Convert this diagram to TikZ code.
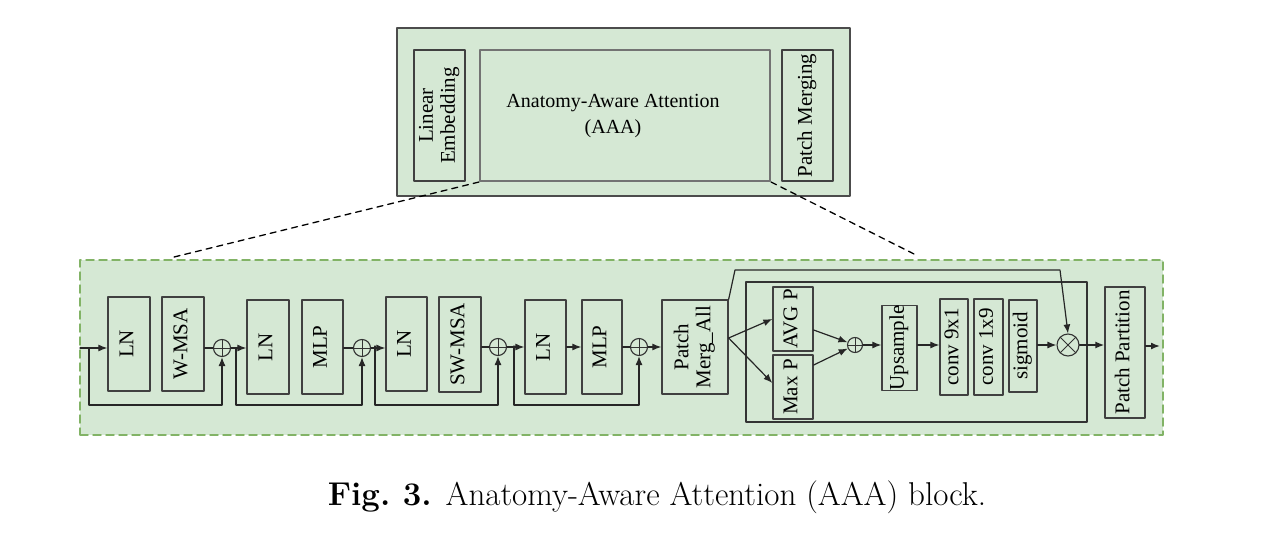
\documentclass[tikz,border=0pt]{standalone}
\usepackage{fontspec}
\newfontfamily\tnr{Liberation Serif}
\usetikzlibrary{arrows.meta,calc}
\definecolor{aaagreen}{RGB}{213,232,212}
\definecolor{aaadash}{RGB}{130,179,102}
\newcommand{\uptext}[1]{\rotatebox{90}{\begin{tabular}{@{}c@{}}#1\end{tabular}}}

\begin{document}
\begin{tikzpicture}[x=1pt,y=-1pt,line cap=round,line join=round,>={Latex[length=9pt,width=7pt]},
	blk/.style={draw=black!75,line width=1.3pt,fill=aaagreen,inner sep=0pt,font=\fontsize{21}{22}\selectfont\tnr},
	opl/.style={circle,draw=black!80,line width=1.1pt,minimum size=17pt,inner sep=0pt,
		path picture={\draw[line width=1pt] (path picture bounding box.north)--(path picture bounding box.south)
			(path picture bounding box.west)--(path picture bounding box.east);}},
	otm/.style={circle,draw=black!80,line width=1.1pt,minimum size=22pt,inner sep=0pt,
		path picture={\draw[line width=1pt] (path picture bounding box.north west)--(path picture bounding box.south east)
			(path picture bounding box.south west)--(path picture bounding box.north east);}},
	conn/.style={line width=1.2pt,draw=black!85}]
	\useasboundingbox (0,0) rectangle (1280,543);
	\node[draw=black!70,line width=1.2pt,fill=aaagreen,minimum width=453pt,minimum height=168pt] (top) at (623.5,112) {};
	\node[blk,minimum width=51pt,minimum height=131pt] (linemb) at (439.5,115.5) {\uptext{Linear\\Embedding}};
	\node[blk,draw=black!55,line width=2pt,minimum width=290pt,minimum height=131pt] (aaa) at (625,115.5) {};
	\node[align=center,font=\fontsize{20}{26}\selectfont\tnr] (aaalbl) at (613,116) {Anatomy-Aware Attention\\(AAA)};
	\node[blk,minimum width=51pt,minimum height=131pt] (pmerg) at (807.5,115.5) {\uptext{Patch Merging}};
	\node[draw=aaadash,line width=1.5pt,dash pattern=on 8pt off 5pt,fill=aaagreen,minimum width=1083pt,minimum height=175pt] (zoom) at (621.5,347.5) {};
	\coordinate (zl) at (170,258);
	\coordinate (zr) at (918,256);
	\draw[line width=1.3pt,dash pattern=on 6pt off 5pt] (aaa.south west) -- (zl);
	\draw[line width=1.3pt,dash pattern=on 6pt off 5pt] (aaa.south east) -- (zr);
	\node[blk,minimum width=42pt,minimum height=94pt] (ln1) at (129,344) {\uptext{LN}};
	\node[blk,minimum width=42pt,minimum height=94pt] (wmsa) at (183,344) {\uptext{W-MSA}};
	\node[opl] (add1) at (222,348) {};
	\node[blk,minimum width=42pt,minimum height=94pt] (ln2) at (268,347) {\uptext{LN}};
	\node[blk,minimum width=41pt,minimum height=94pt] (mlp1) at (322.5,347) {\uptext{MLP}};
	\node[opl] (add2) at (362,348) {};
	\node[blk,minimum width=41pt,minimum height=94pt] (ln3) at (406.5,344) {\uptext{LN}};
	\node[blk,minimum width=42pt,minimum height=95pt] (swmsa) at (460,344.5) {\uptext{SW-MSA}};
	\node[opl] (add3) at (498,347) {};
	\node[blk,minimum width=41pt,minimum height=94pt] (ln4) at (545.5,347) {\uptext{LN}};
	\node[blk,minimum width=40pt,minimum height=94pt] (mlp2) at (602,347) {\uptext{MLP}};
	\node[opl] (add4) at (639,347) {};
	\node[blk,minimum width=66pt,minimum height=94pt] (pma) at (695,347) {\uptext{Patch\\Merg\_All}};
	\node[draw=black!80,line width=1.2pt,minimum width=341pt,minimum height=140pt] (attn) at (916.5,352) {};
	\node[blk,minimum width=40pt,minimum height=64pt] (avgp) at (793,319) {\uptext{AVG P}};
	\node[blk,minimum width=40pt,minimum height=64pt] (maxp) at (793,387) {\uptext{Max P}};
	\node[opl,minimum size=15pt] (add5) at (855,345) {};
	\node[blk,minimum width=35pt,minimum height=84pt] (ups) at (899.5,348) {\uptext{Upsample}};
	\node[blk,minimum width=28pt,minimum height=96pt] (conva) at (954,347) {\uptext{conv 9x1}};
	\node[blk,minimum width=29pt,minimum height=96pt] (convb) at (988.5,347) {\uptext{conv 1x9}};
	\node[blk,minimum width=28pt,minimum height=92pt] (sig) at (1023,346) {\uptext{sigmoid}};
	\node[otm] (mul) at (1068,345) {};
	\node[blk,minimum width=40pt,minimum height=131pt] (ppart) at (1125,352.5) {\uptext{Patch Partition}};
	\node[align=center,font=\fontsize{33}{36}\selectfont] (cap) at (657,497) {\textbf{Fig.~3.}\hspace{14pt}Anatomy-Aware Attention (AAA) block.};
	\coordinate (in) at (80,348);
	\coordinate (out) at (1160,346);
	\coordinate (s1) at (89,348);
	\coordinate (s2) at (236,348);
	\coordinate (s3) at (375,346);
	\coordinate (s4) at (514,346);
	\draw[conn,->] (in) -- (ln1.west |- in);
	\draw[conn] (wmsa.east |- add1) -- (add1.west);
	\draw[conn,->] (add1.east) -- (ln2.west |- add1);
	\draw[conn] (mlp1.east |- add2) -- (add2.west);
	\draw[conn,->] (add2.east) -- (ln3.west |- add2);
	\draw[conn] (swmsa.east |- add3) -- (add3.west);
	\draw[conn,->] (add3.east) -- (ln4.west |- add3);
	\draw[conn,->] (ln4.east) -- (mlp2.west);
	\draw[conn] (mlp2.east |- add4) -- (add4.west);
	\draw[conn,->] (add4.east) -- (pma.west |- add4);
	\draw[conn,->] (s1) -- ++(0,57) -| (add1.south);
	\draw[conn,->] (s2) -- ++(0,57) -| (add2.south);
	\draw[conn,->] (s3) -- ++(0,59) -| (add3.south);
	\draw[conn,->] (s4) -- ++(0,59) -| (add4.south);
	\draw[conn,->] ($(pma.east)+(0,-9)$) -- (avgp.west);
	\draw[conn,->] ($(pma.east)+(0,-9)$) -- ($(maxp.west)+(0,-4)$);
	\draw[conn,->] ($(avgp.east)+(0,11)$) -- (add5);
	\draw[conn,->] ($(maxp.east)+(0,-22)$) -- (add5);
	\draw[conn,->] (add5.east) -- (ups.west |- add5);
	\draw[conn,->] (ups.east |- add5) -- (conva.west |- add5);
	\draw[conn,->] (sig.east |- mul) -- (mul.west);
	\draw[conn,->] (pma.north east) -- (735,270) -- (1060,270) -- (mul.north);
	\draw[conn,->,line width=1.5pt] (mul.east) -- (ppart.west |- mul);
	\draw[conn,->,line width=1.5pt] (ppart.east |- out) -- (out);
\end{tikzpicture}
\end{document}
